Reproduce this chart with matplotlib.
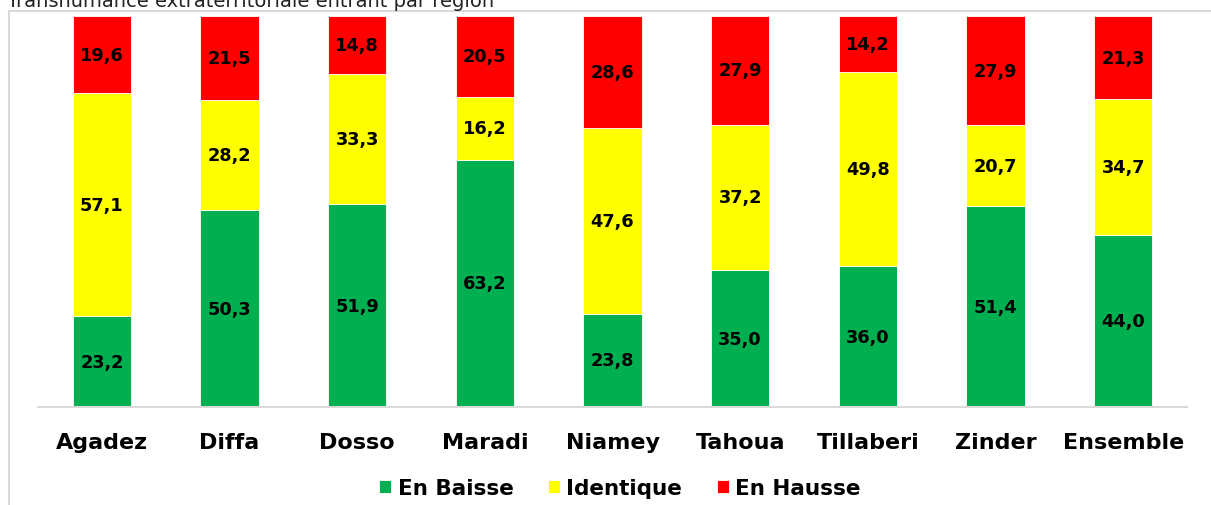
import matplotlib
matplotlib.use("Agg")
import matplotlib.pyplot as plt
from matplotlib.patches import Rectangle
import numpy as np

regions = ["Agadez", "Diffa", "Dosso", "Maradi", "Niamey", "Tahoua", "Tillaberi", "Zinder", "Ensemble"]
en_baisse = [23.2, 50.3, 51.9, 63.2, 23.8, 35.0, 36.0, 51.4, 44.0]
identique = [57.1, 28.2, 33.3, 16.2, 47.6, 37.2, 49.8, 20.7, 34.7]
en_hausse = [19.6, 21.5, 14.8, 20.5, 28.6, 27.9, 14.2, 27.9, 21.3]
series_names = ["En Baisse", "Identique", "En Hausse"]
colors = ["#00B050", "#FFFF00", "#FF0000"]

W, H = 1211, 506
fig = plt.figure(figsize=(W / 100, H / 100), dpi=100)

# chart area border (extends past the right and bottom edges)
fig.patches.append(Rectangle((9 / W, -0.1), 1.2, (H - 12) / H + 0.1,
                             transform=fig.transFigure, fill=False,
                             edgecolor="#d9d9d9", linewidth=1.5))

fig.text(7 / W, 1 - 7 / H, "Transhumance extraterritoriale entrant par région",
         fontsize=14, va="baseline", ha="left", color="#222222")

ax = fig.add_axes([38 / W, 1 - 408 / H, 1149 / W, (408 - 17) / H])
x = np.arange(len(regions))
bottom = np.zeros(len(regions))
for vals, name, col in zip([en_baisse, identique, en_hausse], series_names, colors):
    vals = np.array(vals)
    ax.bar(x, vals, width=0.455, bottom=bottom, color=col, label=name,
           edgecolor="white", linewidth=0.6, zorder=2)
    for xi, b, v in zip(x, bottom, vals):
        ax.text(xi, b + v / 2, f"{v:.1f}".replace(".", ","), ha="center", va="center",
                fontsize=12.8, fontweight="bold", color="black", zorder=3)
    bottom += vals

ax.set_xlim(-0.5, len(regions) - 0.5)
ax.set_ylim(0, 100)
for s in ["top", "right", "left"]:
    ax.spines[s].set_visible(False)
ax.spines["bottom"].set_color("#d9d9d9")
ax.spines["bottom"].set_linewidth(1.5)
ax.set_yticks([])
ax.set_xticks(x)
ax.set_xticklabels(regions, fontsize=16, fontweight="bold")
ax.tick_params(axis="x", length=0, pad=18)
ax.patch.set_alpha(0)

fig.legend(loc="center", bbox_to_anchor=(620 / W, 1 - 489 / H), ncol=3,
           frameon=False, prop={"size": 15.5, "weight": "bold"},
           handlelength=0.55, handleheight=0.55, handletextpad=0.3,
           columnspacing=1.6)

fig.savefig("out.png", dpi=100)
